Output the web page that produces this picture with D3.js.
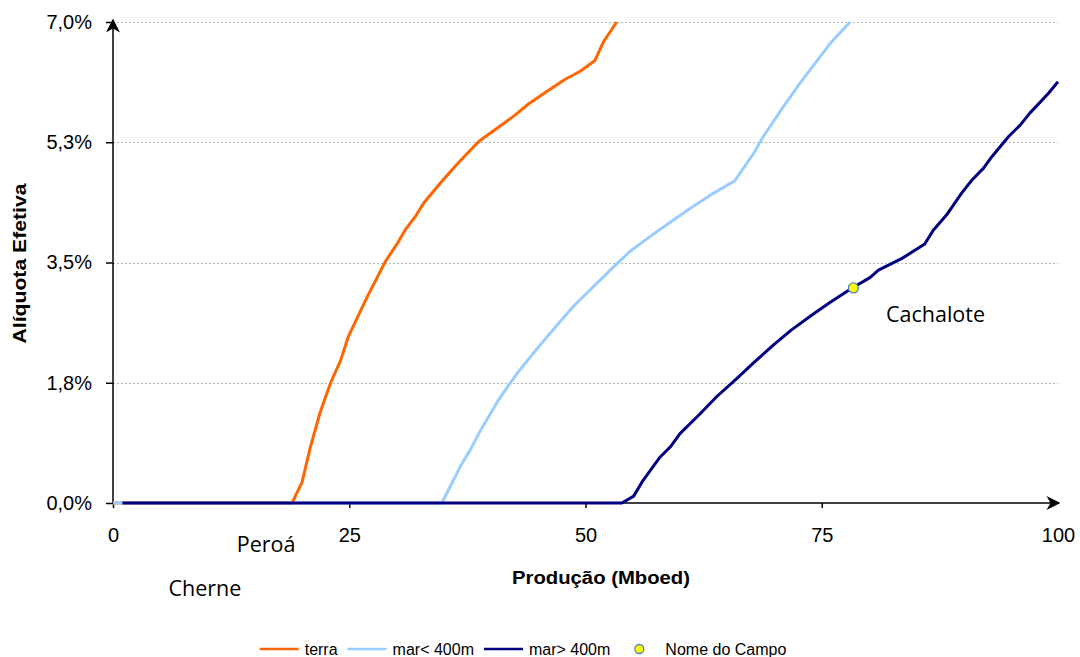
<!DOCTYPE html>
<html>
<head>
<meta charset="utf-8">
<script src="https://cdn.jsdelivr.net/npm/d3@7"></script>
<style>
  body { margin: 0; background: #fff; }
  svg { display: block; font-family: "Liberation Sans", Arial, sans-serif; }
  .grid line { stroke: #b4b4b4; stroke-dasharray: 2 2; }
  .axis path, .axis line { stroke: #000; }
  .axis text { font-size: 20px; fill: #000; }
  .axis-title { font-size: 18px; font-weight: bold; }
  .field-label { font-family: "Open Sans", "Noto Sans", sans-serif; font-size: 21.5px; }
  .legend text { font-size: 16px; }
</style>
</head>
<body>
<div id="chart"></div>
<script>
// production (Mboed) vs effective rate (%)
const terra = [
  [0, 0], [18.95, 0], [20.0, 0.3], [20.9, 0.82], [21.9, 1.31], [23.0, 1.74],
  [24.1, 2.08], [24.9, 2.42], [26.9, 3.0], [28.8, 3.51], [30.1, 3.78],
  [30.9, 3.97], [32.0, 4.17], [32.9, 4.37], [34.6, 4.65], [36.4, 4.93],
  [38.7, 5.26], [40.6, 5.45], [42.4, 5.63], [44.0, 5.81], [45.9, 5.99],
  [47.9, 6.17], [49.4, 6.28], [51.0, 6.44], [51.9, 6.71], [53.3, 7.0],
];
const marRaso = [
  [0, 0], [34.8, 0], [36.75, 0.53], [37.8, 0.77], [38.9, 1.06], [40.8, 1.5],
  [42.0, 1.74], [42.9, 1.91], [44.9, 2.25], [47.0, 2.59], [48.7, 2.86],
  [50.85, 3.15], [53.0, 3.44], [54.7, 3.66], [56.85, 3.88], [59.0, 4.09],
  [61.1, 4.29], [63.2, 4.48], [65.8, 4.69], [67.8, 5.09], [68.8, 5.33],
  [70.8, 5.74], [72.7, 6.11], [75.9, 6.69], [78.0, 7.0],
];
const marProfundo = [
  [1, 0], [53.85, 0], [55.1, 0.1], [56.0, 0.31], [57.0, 0.5], [57.9, 0.67],
  [59.0, 0.82], [60.0, 1.01], [62.0, 1.28], [63.9, 1.55], [66.0, 1.81],
  [67.95, 2.06], [69.9, 2.3], [71.8, 2.52], [74.0, 2.74], [75.9, 2.92],
  [78.35, 3.14], [80.1, 3.28], [81.0, 3.39], [83.5, 3.56], [85.9, 3.77],
  [86.8, 3.97], [88.2, 4.19], [89.8, 4.51], [90.9, 4.7], [92.1, 4.87],
  [93.0, 5.04], [94.75, 5.33], [96.0, 5.5], [97.0, 5.67], [98.97, 5.96],
  [100, 6.13],
];
const campos = [[78.35, 3.13]];
const campoLabels = [
  { name: "Cachalote", x: 81.8, y: 2.63 },
  { name: "Peroá", x: 13.1, y: -0.71 },
  { name: "Cherne", x: 5.87, y: -1.35 },
];
const xTicks = [0, 25, 50, 75, 100];
const yTicks = [0, 1.75, 3.5, 5.25, 7];
const seriesNames = ["terra", "mar< 400m", "mar> 400m"];
const seriesColors = ["#ff6600", "#99ccff", "#000080"];
const campoName = "Nome do Campo";

const width = 1080;
const height = 657;
const margin = { top: 22, right: 22, bottom: 154, left: 113 };

const locale = d3.formatLocale({ decimal: ",", thousands: ".", grouping: [3], currency: ["R$", ""] });
const fmtPct = (d) => locale.format(".1f")(d) + "%";

const x = d3.scaleLinear().domain([0, 100]).range([margin.left, width - margin.right]);
const y = d3.scaleLinear().domain([0, 7]).range([height - margin.bottom, margin.top]);

const svg = d3.select("#chart").append("svg")
  .attr("width", width)
  .attr("height", height)
  .attr("viewBox", [0, 0, width, height]);

svg.append("defs").append("marker")
  .attr("id", "arrow")
  .attr("viewBox", "0 0 10 10")
  .attr("refX", 9)
  .attr("refY", 5)
  .attr("markerWidth", 14)
  .attr("markerHeight", 14)
  .attr("markerUnits", "userSpaceOnUse")
  .attr("orient", "auto")
  .append("path")
  .attr("d", "M0,0 L10,5 L0,10 L3,5 Z")
  .attr("fill", "#000");

// gridlines
svg.append("g")
  .attr("class", "grid")
  .selectAll("line")
  .data(yTicks.filter((d) => d > 0))
  .join("line")
  .attr("x1", x(0))
  .attr("x2", x(100))
  .attr("y1", (d) => Math.round(y(d)) + 0.5)
  .attr("y2", (d) => Math.round(y(d)) + 0.5);

// axes
const gY = svg.append("g")
  .attr("class", "axis axis--y")
  .attr("transform", `translate(${x(0)},0)`)
  .call(d3.axisLeft(y).tickValues(yTicks).tickFormat(fmtPct).tickSize(7).tickPadding(14).tickSizeOuter(0));
gY.select(".domain").remove();
gY.selectAll(".tick line").attr("stroke-width", 1.5);

const gX = svg.append("g")
  .attr("class", "axis axis--x")
  .attr("transform", `translate(0,${y(0)})`)
  .call(d3.axisBottom(x).tickValues(xTicks).tickSize(5).tickPadding(20).tickSizeOuter(0));
gX.select(".domain").remove();
gX.selectAll(".tick").filter((d) => d === 100).select("line").remove();
gX.selectAll(".tick line").attr("stroke-width", 1.5);

svg.append("line")
  .attr("x1", x(0)).attr("x2", x(0))
  .attr("y1", y(0)).attr("y2", y(7) - 2)
  .attr("stroke", "#000").attr("stroke-width", 1.5)
  .attr("marker-end", "url(#arrow)");
svg.append("line")
  .attr("x1", x(0)).attr("x2", x(100) + 1)
  .attr("y1", y(0)).attr("y2", y(0))
  .attr("stroke", "#000").attr("stroke-width", 1.5)
  .attr("marker-end", "url(#arrow)");

svg.append("text")
  .attr("class", "axis-title")
  .attr("transform", `translate(26,${(margin.top + y(0)) / 2 + 1}) rotate(-90)`)
  .attr("text-anchor", "middle")
  .attr("textLength", 160)
  .attr("lengthAdjust", "spacingAndGlyphs")
  .text("Alíquota Efetiva");

svg.append("text")
  .attr("class", "axis-title")
  .attr("x", 601)
  .attr("y", 584)
  .attr("text-anchor", "middle")
  .attr("textLength", 178)
  .attr("lengthAdjust", "spacingAndGlyphs")
  .text("Produção (Mboed)");

// lines
const line = d3.line().x((d) => x(d[0])).y((d) => y(d[1]));
svg.append("g")
  .attr("class", "lines")
  .selectAll("path")
  .data([terra, marRaso, marProfundo])
  .join("path")
  .attr("fill", "none")
  .attr("stroke", (d, i) => seriesColors[i])
  .attr("stroke-width", 3)
  .attr("stroke-linejoin", "round")
  .attr("d", line);

svg.append("g")
  .selectAll("circle")
  .data(campos)
  .join("circle")
  .attr("cx", (d) => x(d[0]))
  .attr("cy", (d) => y(d[1]))
  .attr("r", 5)
  .attr("fill", "#ffff00")
  .attr("stroke", "#4f81bd")
  .attr("stroke-width", 1.3);

svg.append("g")
  .selectAll("text")
  .data(campoLabels)
  .join("text")
  .attr("class", "field-label")
  .attr("x", (d) => x(d.x))
  .attr("y", (d) => y(d.y))
  .text((d) => d.name);

// legend
const legend = svg.append("g").attr("class", "legend");
const items = seriesNames.map((name, i) => ({ name, color: seriesColors[i], type: "line" }))
  .concat([{ name: campoName, type: "point" }]);
let cursor = 0;
items.forEach((it) => {
  const g = legend.append("g").attr("transform", `translate(${cursor},0)`);
  if (it.type === "line") {
    g.append("line").attr("x1", 0).attr("x2", 39).attr("stroke", it.color).attr("stroke-width", 2.5);
  } else {
    g.append("circle").attr("cx", 19).attr("r", 4.5)
      .attr("fill", "#ffff00").attr("stroke", "#4f81bd").attr("stroke-width", 1.3);
  }
  const t = g.append("text").attr("x", 45).attr("dy", "0.35em").text(it.name);
  cursor += 45 + t.node().getComputedTextLength() + 10;
});
const legendWidth = cursor - 10;
legend.attr("transform", `translate(${523 - legendWidth / 2},649)`);
</script>
</body>
</html>
